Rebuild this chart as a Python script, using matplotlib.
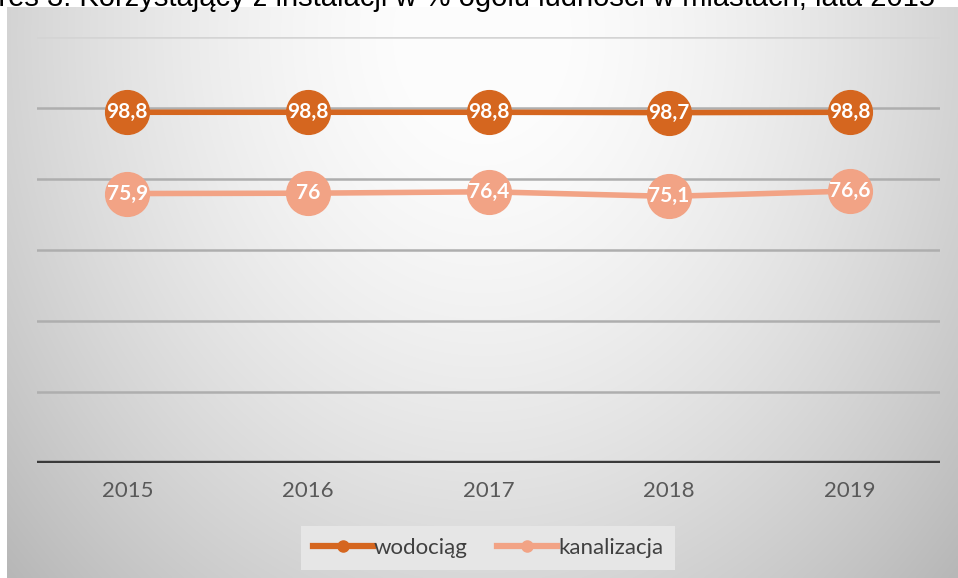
import numpy as np
import matplotlib
matplotlib.use("Agg")
import matplotlib.pyplot as plt
from matplotlib.lines import Line2D

years = ["2015", "2016", "2017", "2018", "2019"]
wodociag = [98.8, 98.8, 98.8, 98.7, 98.8]
kanalizacja = [75.9, 76.0, 76.4, 75.1, 76.6]
series_names = ["wodociąg", "kanalizacja"]
title = "Wykres 3. Korzystający z instalacji w % ogółu ludności w miastach, lata 2015"

c_dark = "#D5661F"
c_light = "#F2A385"

W, H = 958, 578
fig = plt.figure(figsize=(W / 100, H / 100), dpi=100)
fig.patch.set_facecolor("white")

# background gradient panel
bg = fig.add_axes([7 / W, 0, (W - 7) / W, (H - 7) / H])
bg.set_axis_off()
ny, nx = 300, 500
yy, xx = np.mgrid[0:1:ny * 1j, 0:1:nx * 1j]
r = np.sqrt(((xx - 0.5) / 0.62) ** 2 + ((yy - 0.05) / 1.25) ** 2)
val = 1.0 - 0.24 * r ** 1.6
val = np.clip(val, 0.72, 0.99)
img = np.dstack([val, val, val])
bg.imshow(img, aspect="auto", extent=[0, 1, 1, 0], interpolation="bilinear")
bg.set_xlim(0, 1)
bg.set_ylim(1, 0)

# title (partially cut at top, as in the source image)
fig.text(-58 / W, 1 - 6 / H, title, fontsize=21, family="Liberation Sans",
         ha="left", va="baseline", color="black", zorder=0)

ax = fig.add_axes([37 / W, (H - 463) / H, 903 / W, (463 - 37) / H])
ax.patch.set_alpha(0)
x = np.arange(len(years))
ax.set_xlim(-0.5, len(years) - 0.5)
ax.set_ylim(0, 120)
for s in ax.spines.values():
    s.set_visible(False)
ax.set_yticks([])
for g in range(20, 121, 20):
    col = "#d4d4d4" if g == 120 else "#aeaeae"
    ax.axhline(g, color=col, lw=1.8, zorder=1)
ax.axhline(0, color="#3a3a3a", lw=3.2, zorder=2)

ax.plot(x, wodociag, color=c_dark, lw=4, marker="o", markersize=31.5,
        markerfacecolor=c_dark, markeredgecolor=c_dark, zorder=3)
ax.plot(x, kanalizacja, color=c_light, lw=4, marker="o", markersize=31.5,
        markerfacecolor=c_light, markeredgecolor=c_light, zorder=3)

for xi, v in zip(x, wodociag):
    ax.text(xi, v, f"{v:g}".replace(".", ","), ha="center", va="center",
            color="white", fontsize=15, fontweight="bold", family="Lato", zorder=4)
for xi, v in zip(x, kanalizacja):
    ax.text(xi, v, f"{v:g}".replace(".", ","), ha="center", va="center",
            color="white", fontsize=15, fontweight="bold", family="Lato", zorder=4)

ax.set_xticks(x)
ax.set_xticklabels(years, fontsize=16, color="#595959", family="Lato")
ax.tick_params(axis="x", length=0, pad=13)

handles = [
    Line2D([0], [0], color=c_dark, lw=4.5, marker="o", markersize=8),
    Line2D([0], [0], color=c_light, lw=4.5, marker="o", markersize=8),
]
leg = fig.legend(handles, series_names, loc="center", bbox_to_anchor=(488 / W, 1 - 548 / H),
                 ncol=2, frameon=True, fancybox=False, facecolor="#e6e6e6", edgecolor="none",
                 framealpha=1, prop={"family": "Lato", "size": 16}, handlelength=2.7,
                 handletextpad=0.05, columnspacing=1.3, borderpad=0.55, borderaxespad=0)
for t in leg.get_texts():
    t.set_color("#404040")

fig.savefig("out.png", dpi=100)
